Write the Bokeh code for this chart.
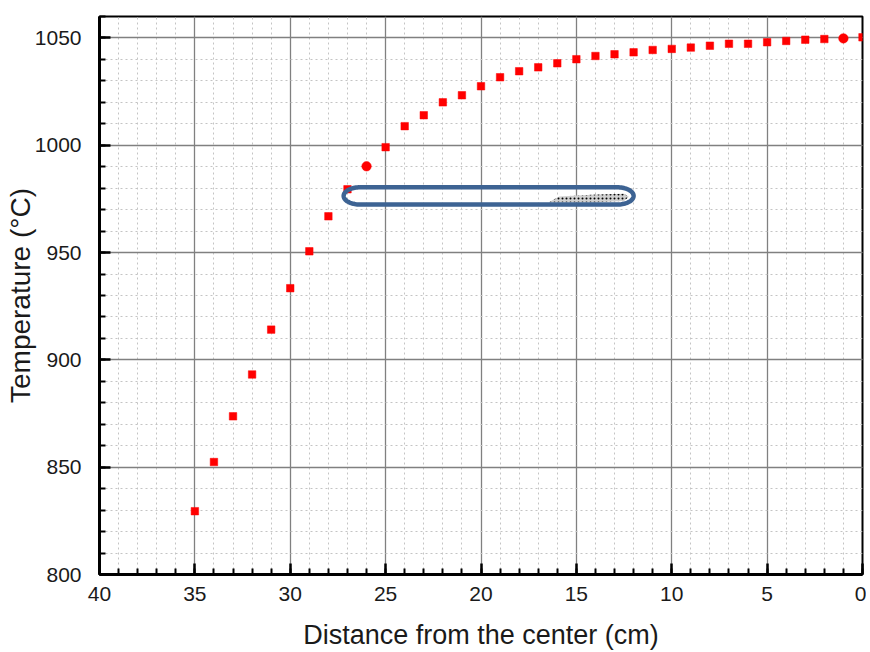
import numpy as np
from bokeh.plotting import figure
from bokeh.models import Range1d, SingleIntervalTicker, ColumnDataSource
from bokeh.embed import file_html
from bokeh.resources import INLINE

# ---- data ----
distance = [35, 34, 33, 32, 31, 30, 29, 28, 27, 26, 25, 24, 23, 22, 21, 20, 19, 18,
            17, 16, 15, 14, 13, 12, 11, 10, 9, 8, 7, 6, 5, 4, 3, 2, 1, 0]
temperature = [829.5, 852.4, 873.7, 893.2, 914.1, 933.4, 950.6, 966.9, 979.5, 990.2,
               999.1, 1008.9, 1014.0, 1020.0, 1023.3, 1027.5, 1031.7, 1034.5, 1036.3,
               1038.2, 1040.1, 1041.6, 1042.4, 1043.3, 1044.4, 1044.9, 1045.5, 1046.4,
               1047.3, 1047.3, 1048.0, 1048.6, 1049.2, 1049.5, 1049.8, 1050.3]
circle_positions = [26, 1]

x_label = "Distance from the center (cm)"
y_label = "Temperature (°C)"

# capsule (tube) annotation parameters, data units
tube_left, tube_right = 27.2, 12.0
tube_yc, tube_hy = 976.4, 4.0
tube_end_rx = 0.85
# sample (hatched) polygon
sample_x = [16.45, 15.9, 14.2, 12.5, 12.25, 12.5, 14.0]
sample_y = [973.5, 976.1, 976.9, 977.4, 976.0, 974.0, 973.4]

FONT = "Liberation Sans"

p = figure(width=866, height=652, x_range=Range1d(40, 0), y_range=Range1d(800, 1060),
           output_backend="svg", toolbar_location=None,
           min_border_left=99, min_border_right=4, min_border_top=16, min_border_bottom=77,
           background_fill_color="white", border_fill_color="white")

p.outline_line_color = "black"
p.outline_line_width = 2

p.xaxis.ticker = SingleIntervalTicker(interval=5, num_minor_ticks=5)
p.yaxis.ticker = SingleIntervalTicker(interval=50, num_minor_ticks=5)

for g in (p.xgrid, p.ygrid):
    g.grid_line_color = "#808080"
    g.grid_line_width = 1.3
    g.minor_grid_line_color = "#c4c4c4"
    g.minor_grid_line_width = 1
    g.minor_grid_line_dash = "2 3"

for ax in (p.xaxis, p.yaxis):
    ax.axis_line_color = "black"
    ax.axis_line_width = 3
    ax.major_tick_in = 11
    ax.major_tick_out = 0
    ax.minor_tick_in = 6
    ax.minor_tick_out = 0
    ax.major_tick_line_width = 2.5
    ax.minor_tick_line_width = 2
    ax.major_tick_line_color = "black"
    ax.minor_tick_line_color = "black"
    ax.major_label_text_font = FONT
    ax.major_label_text_font_size = "21px"
    ax.major_label_text_color = "#1a1a1a"
    ax.axis_label_text_font = FONT
    ax.axis_label_text_font_style = "normal"
    ax.axis_label_text_color = "#1a1a1a"

p.xaxis.axis_label = x_label
p.yaxis.axis_label = y_label
p.xaxis.axis_label_text_font_size = "27px"
p.yaxis.axis_label_text_font_size = "28px"
p.xaxis.major_label_standoff = 12
p.xaxis.axis_label_standoff = 16
p.yaxis.major_label_standoff = 18
p.yaxis.axis_label_standoff = -4

# ---- data markers ----
is_circle = [d in circle_positions for d in distance]
sq = ColumnDataSource(dict(x=[d for d, c in zip(distance, is_circle) if not c],
                           y=[t for t, c in zip(temperature, is_circle) if not c]))
ci = ColumnDataSource(dict(x=[d for d, c in zip(distance, is_circle) if c],
                           y=[t for t, c in zip(temperature, is_circle) if c]))
p.scatter("x", "y", source=sq, marker="square", size=7.5, fill_color="#ff0000",
          line_color="#ff0000", line_width=0.5)
p.scatter("x", "y", source=ci, marker="circle", size=9.5, fill_color="#ff0000",
          line_color="#ff0000", line_width=0.5)

# ---- tube annotation ----
xl = tube_left - tube_end_rx
xr = tube_right + tube_end_rx
t = np.linspace(np.pi / 2, -np.pi / 2, 40)
right_x = xr - tube_end_rx * np.cos(t)
right_y = tube_yc + tube_hy * np.sin(t)
t2 = np.linspace(-np.pi / 2, np.pi / 2, 40)
left_x = xl + tube_end_rx * np.cos(t2)
left_y = tube_yc + tube_hy * np.sin(t2)
cap_x = np.concatenate([[xl], right_x, left_x, [xl]])
cap_y = np.concatenate([[tube_yc + tube_hy], right_y, left_y, [tube_yc + tube_hy]])

p.patch(sample_x, sample_y, fill_color="#d0d0d0", line_color=None,
        hatch_pattern="dot", hatch_color="black", hatch_scale=4, hatch_weight=2.5)
p.line(cap_x, cap_y, line_color="#3d6393", line_width=4.5)

open("out.html", "w").write(file_html(p, INLINE))
